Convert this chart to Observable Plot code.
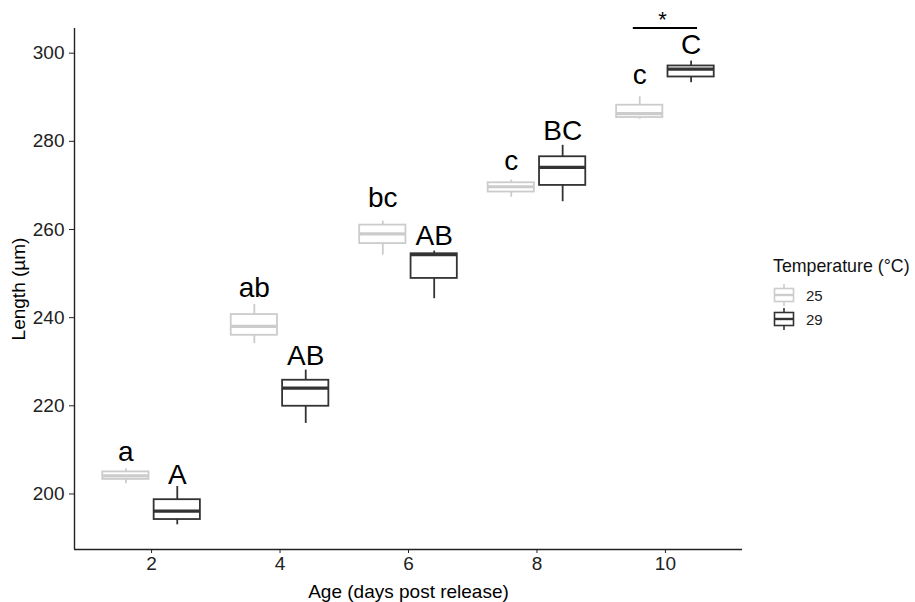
<!DOCTYPE html>
<html><head><meta charset="utf-8">
<script src="https://cdn.jsdelivr.net/npm/d3@7"></script>
<script src="https://cdn.jsdelivr.net/npm/@observablehq/plot@0.6"></script>
<style>
body{margin:0;background:#fff;font-family:"Liberation Sans",Arial,sans-serif;}
#wrap{position:relative;width:915px;height:602px;overflow:hidden;}
</style></head><body><div id="wrap"></div><script>
// ---- data ----
const ages = [2, 4, 6, 8, 10];
const temps = ["25", "29"];
const tempColors = ["#CCCCCC", "#333333"];

const lo25  = [202.3, 234.1, 254.2, 267.3, 285.0];
const q1_25 = [203.3, 236.0, 256.8, 268.5, 285.4];
const med25 = [204.1, 238.0, 259.0, 269.7, 286.3];
const q3_25 = [205.0, 240.7, 261.0, 270.6, 288.2];
const hi25  = [205.7, 243.0, 261.9, 271.2, 290.1];

const lo29  = [193.0, 216.0, 244.3, 266.3, 293.3];
const q1_29 = [194.2, 219.9, 248.9, 270.0, 294.6];
const med29 = [196.1, 224.0, 254.3, 274.1, 296.4];
const q3_29 = [198.7, 225.8, 254.5, 276.5, 297.1];
const hi29  = [201.7, 228.1, 255.1, 279.1, 298.2];

const letters25 = ["a", "ab", "bc", "c", "c"];
const letters29 = ["A", "AB", "AB", "BC", "C"];
const letterY25 = [207.5, 244.7, 265.1, 273.4, 293.1];
const letterY29 = [202.3, 229.2, 256.4, 280.3, 299.9];

const sigAge = [10];
const sigY = [305.7];
const sigLabel = ["*"];

const yTicks = [200, 220, 240, 260, 280, 300];

// ---- build table ----
const boxes = [];
ages.forEach((a, i) => {
  boxes.push({age: a, temp: "25", lo: lo25[i], q1: q1_25[i], med: med25[i], q3: q3_25[i], hi: hi25[i], label: letters25[i], ly: letterY25[i]});
  boxes.push({age: a, temp: "29", lo: lo29[i], q1: q1_29[i], med: med29[i], q3: q3_29[i], hi: hi29[i], label: letters29[i], ly: letterY29[i]});
});
const sig = sigAge.map((a, i) => ({age: a, y: sigY[i], label: sigLabel[i]}));

const dodge = {"25": -0.4, "29": 0.4};
const hw = 0.36;
const xc = d => d.age + dodge[d.temp];
const xDomain = [0.8, 11.2];
const yDomain = [187.4, 305.6];

const chart = Plot.plot({
  width: 915, height: 602,
  marginLeft: 74, marginRight: 173, marginTop: 28, marginBottom: 53,
  x: {domain: xDomain},
  y: {domain: yDomain},
  color: {domain: temps, range: tempColors},
  style: {fontFamily: "'Liberation Sans', Arial, sans-serif", background: "white", color: "#222"},
  marks: [
    Plot.ruleX(boxes, {x: xc, y1: "lo", y2: "q1", stroke: "temp", strokeWidth: 1.8}),
    Plot.ruleX(boxes, {x: xc, y1: "q3", y2: "hi", stroke: "temp", strokeWidth: 1.8}),
    Plot.rect(boxes, {x1: d => xc(d) - hw, x2: d => xc(d) + hw, y1: "q1", y2: "q3", fill: "white", stroke: "temp", strokeWidth: 1.8}),
    Plot.ruleY(boxes, {x1: d => xc(d) - hw, x2: d => xc(d) + hw, y: "med", stroke: "temp", strokeWidth: 3.2}),
    Plot.text(boxes, {x: xc, y: "ly", text: "label", fontSize: 28, lineAnchor: "bottom", fill: "black"}),
    Plot.ruleY(sig, {x1: d => d.age - 0.5, x2: d => d.age + 0.5, y: "y", stroke: "black", strokeWidth: 2, clip: false}),
    Plot.text(sig, {x: "age", y: "y", text: "label", fontSize: 22, lineAnchor: "bottom", dy: -1, dx: -3, fill: "black"}),
    Plot.ruleX([xDomain[0]], {stroke: "#222", strokeWidth: 1.4}),
    Plot.ruleY([yDomain[0]], {stroke: "#222", strokeWidth: 1.4}),
    Plot.axisX({ticks: ages, tickSize: 4, tickPadding: 3, fontSize: 19, color: "#222",
      label: "Age (days post release)", labelAnchor: "center", labelArrow: "none", labelOffset: 48}),
    Plot.axisY({ticks: yTicks, tickSize: 5, tickPadding: 5, fontSize: 19, color: "#222",
      label: "Length (µm)", labelAnchor: "center", labelArrow: "none", labelOffset: 63})
  ]
});
const wrap = document.getElementById("wrap");
wrap.appendChild(chart);
chart.querySelectorAll("text").forEach(t => {
  const lab = t.textContent;
  if (lab === "Age (days post release)" || lab === "Length (µm)") t.setAttribute("fill", "black");
});

// ---- legend (HTML/SVG overlay) ----
const ns = "http://www.w3.org/2000/svg";
const leg = document.createElementNS(ns, "svg");
leg.setAttribute("width", 142); leg.setAttribute("height", 90);
leg.style.position = "absolute"; leg.style.left = "773px"; leg.style.top = "250px";
const title = document.createElementNS(ns, "text");
title.setAttribute("x", 0); title.setAttribute("y", 21.5);
title.setAttribute("font-size", 17.8); title.setAttribute("font-family", "'Liberation Sans', Arial, sans-serif");
title.setAttribute("fill", "#111");
title.textContent = "Temperature (°C)";
leg.appendChild(title);
temps.forEach((t, i) => {
  const cy = 45 + i * 24, c = tempColors[i];
  const g = document.createElementNS(ns, "g");
  const mk = (tag, attrs) => { const e = document.createElementNS(ns, tag); for (const k in attrs) e.setAttribute(k, attrs[k]); g.appendChild(e); return e; };
  mk("line", {x1: 11, x2: 11, y1: cy - 11, y2: cy + 11, stroke: c, "stroke-width": 1.6});
  mk("rect", {x: 1.5, y: cy - 6.5, width: 19, height: 13, fill: "white", stroke: c, "stroke-width": 1.6});
  mk("line", {x1: 1.5, x2: 20.5, y1: cy, y2: cy, stroke: c, "stroke-width": 2.4});
  const tx = mk("text", {x: 33, y: cy, "font-size": 15, "dominant-baseline": "central", fill: "#222", "font-family": "'Liberation Sans', Arial, sans-serif"});
  tx.textContent = t;
  leg.appendChild(g);
});
wrap.appendChild(leg);
</script></body></html>
